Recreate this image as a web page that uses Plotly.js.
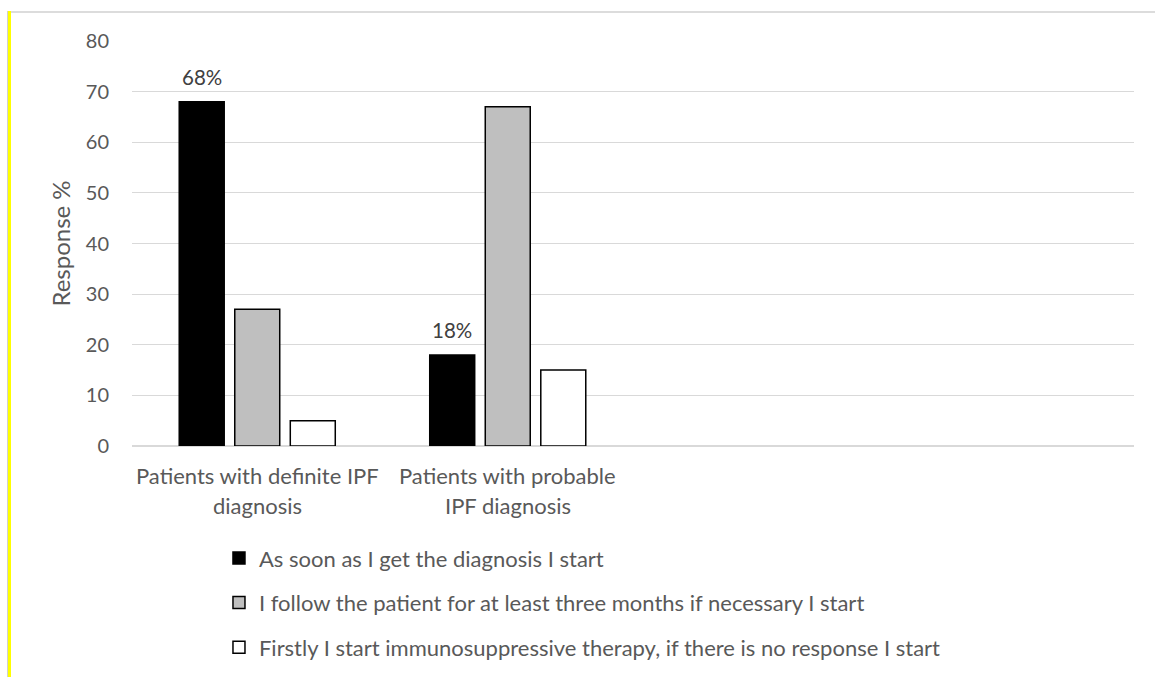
<!DOCTYPE html>
<html><head><meta charset="utf-8">
<script src="https://cdn.plot.ly/plotly-3.0.1.min.js"></script>
<style>
html,body{margin:0;padding:0;background:#fff;}
#wrap{position:relative;width:1155px;height:677px;overflow:hidden;}
#chart{position:absolute;left:0;top:0;width:1155px;height:677px;}
#topline{position:absolute;left:7px;top:11px;width:1148px;height:2px;background:#dcdcdc;}
#leftline{position:absolute;left:7px;top:11px;width:3px;height:666px;background:#ffff00;border-left:1px solid #d0d0d0;}
</style></head>
<body>
<div id="wrap"><div id="chart"></div><div id="topline"></div><div id="leftline"></div></div>
<script>
const categories = ["Patients with definite IPF diagnosis", "Patients with probable IPF diagnosis"];
const tickLines = [["Patients with definite IPF", "diagnosis"], ["Patients with probable", "IPF diagnosis"]];
const seriesNames = [
  "As soon as I get the diagnosis I start",
  "I follow the patient for at least three months if necessary I start",
  "Firstly I start immunosuppressive therapy, if there is no response I start"
];
const asSoon = [68, 18];
const followThree = [27, 67];
const immunoFirst = [5, 15];
const dataLabels = ["68%", "18%"];
const yTicks = [0, 10, 20, 30, 40, 50, 60, 70, 80];

const FONT = "Lato, 'Open Sans', sans-serif";
const TXT = "#595959";
const colors = ["#000000", "#bfbfbf", "#ffffff"];
const values = [asSoon, followThree, immunoFirst];

const traces = values.map((v, i) => ({
  type: "bar",
  name: seriesNames[i],
  x: categories,
  y: v,
  marker: {color: colors[i], line: {color: "#000000", width: 1.5}},
  legendgroup: "g" + i,
  hoverinfo: "skip"
}));

const annotations = [];
categories.forEach((c, i) => {
  annotations.push({
    xref: "x", yref: "y", x: c, y: asSoon[i], text: dataLabels[i],
    showarrow: false, yanchor: "bottom", xanchor: "center", xshift: -55.5, yshift: 11,
    font: {family: FONT, size: 20.5, color: "#404040"}
  });
  tickLines[i].forEach((line, j) => {
    annotations.push({
      xref: "x", yref: "paper", x: c, y: j === 0 ? -0.073 : -0.146, text: line,
      showarrow: false, yanchor: "middle", xanchor: "center",
      font: {family: FONT, size: 22, color: TXT}
    });
  });
});

const layout = {
  width: 1155, height: 677,
  margin: {l: 132, r: 21, t: 41, b: 231, autoexpand: false},
  paper_bgcolor: "#ffffff", plot_bgcolor: "#ffffff",
  font: {family: FONT, color: TXT},
  barmode: "group", bargap: 0.335, bargroupgap: 0.19,
  showlegend: true,
  legend: {
    orientation: "v", x: 0.0868, xanchor: "left", y: -0.225, yanchor: "top",
    traceorder: "grouped", tracegroupgap: 13,
    font: {family: FONT, size: 22, color: TXT}, bgcolor: "rgba(0,0,0,0)"
  },
  xaxis: {
    type: "category", range: [-0.5, 3.5], showticklabels: false,
    showgrid: false, zeroline: false, showline: false, ticks: "", fixedrange: true
  },
  yaxis: {
    range: [0, 80], tickvals: yTicks, ticks: "", ticklabelstandoff: 22,
    tickfont: {family: FONT, size: 20, color: TXT},
    showgrid: true, gridcolor: "#d9d9d9", gridwidth: 1,
    zeroline: true, zerolinecolor: "#d9d9d9", zerolinewidth: 1.5,
    showline: false, automargin: false,
    title: {text: "Response %", font: {family: FONT, size: 24, color: TXT}, standoff: 8}
  },
  annotations: annotations
};

Plotly.newPlot("chart", traces, layout, {displayModeBar: false, staticPlot: true});
</script>
</body></html>
